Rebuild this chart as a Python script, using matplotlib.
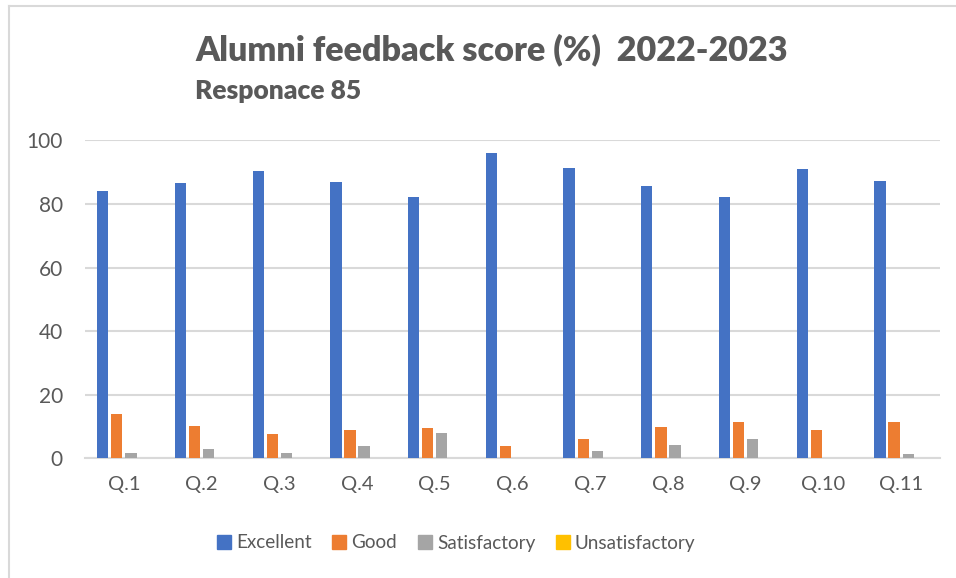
import matplotlib
matplotlib.use("Agg")
import matplotlib.pyplot as plt
import numpy as np
from matplotlib.lines import Line2D

plt.rcParams['font.family'] = ['Lato', 'DejaVu Sans']

questions = ["Q.1", "Q.2", "Q.3", "Q.4", "Q.5", "Q.6", "Q.7", "Q.8", "Q.9", "Q.10", "Q.11"]
excellent = [84.0, 86.7, 90.3, 86.9, 82.2, 95.9, 91.3, 85.6, 82.2, 91.0, 87.2]
good = [13.8, 10.2, 7.5, 8.8, 9.5, 3.9, 6.0, 10.0, 11.3, 8.8, 11.3]
satisfactory = [1.8, 2.8, 1.8, 3.9, 7.9, 0.0, 2.3, 4.1, 6.2, 0.0, 1.4]
unsatisfactory = [0, 0, 0, 0, 0, 0, 0, 0, 0, 0, 0]
series_names = ["Excellent", "Good", "Satisfactory", "Unsatisfactory"]
colors = ["#4472C4", "#ED7D31", "#A5A5A5", "#FFC000"]
yticks = [0, 20, 40, 60, 80, 100]

txt = "#595959"
grid_c = "#D9D9D9"

fig = plt.figure(figsize=(9.56, 5.78), dpi=100)
ax = fig.add_axes([85/956, 1-458.3/578, 855/956, (458.3-140.3)/578])

x = np.arange(len(questions))
slot = 0.1815
bw = 0.145
all_series = [excellent, good, satisfactory, unsatisfactory]
handles = []
for i, (vals, name, c) in enumerate(zip(all_series, series_names, colors)):
    ax.bar(x + (i - 1.5) * slot, vals, width=bw, color=c, label=name, zorder=3)
    handles.append(Line2D([], [], marker='s', linestyle='none', markersize=10.5,
                          markerfacecolor=c, markeredgecolor=c, label=name))

ax.set_xlim(-0.5, len(questions) - 0.5)
ax.set_ylim(0, 100)
ax.set_yticks(yticks)
ax.set_yticklabels([str(v) for v in yticks])
ax.set_xticks(x)
ax.set_xticklabels(questions)
ax.yaxis.grid(True, color=grid_c, linewidth=1.5, zorder=0)
ax.set_axisbelow(True)
for s in ["top", "right", "left"]:
    ax.spines[s].set_visible(False)
ax.spines["bottom"].set_color(grid_c)
ax.spines["bottom"].set_linewidth(1.5)
ax.tick_params(axis='both', length=0, colors=txt)
ax.tick_params(axis='y', pad=16, labelsize=15)
ax.tick_params(axis='x', pad=13, labelsize=14.5)

fig.text(195/956, 1-50/578, "Alumni feedback score (%)  2022-2023", fontsize=24.6,
         fontweight='heavy', color=txt, ha='left', va='center')
fig.text(195/956, 1-91/578, "Responace 85", fontsize=19,
         fontweight='heavy', color=txt, ha='left', va='center')

fig.legend(handles=handles, loc='center', bbox_to_anchor=(456/956, 1-543/578),
           ncol=4, frameon=False, fontsize=13.6, labelcolor=txt,
           handletextpad=0.25, columnspacing=1.05, handlelength=0.8)

# chart border (left and top visible)
fig.add_artist(Line2D([9/956, 9/956], [0, 1-6/578], color=grid_c, linewidth=1.5))
fig.add_artist(Line2D([9/956, 1], [1-6/578, 1-6/578], color=grid_c, linewidth=1.5))

fig.savefig("out.png", dpi=100, facecolor="white")
